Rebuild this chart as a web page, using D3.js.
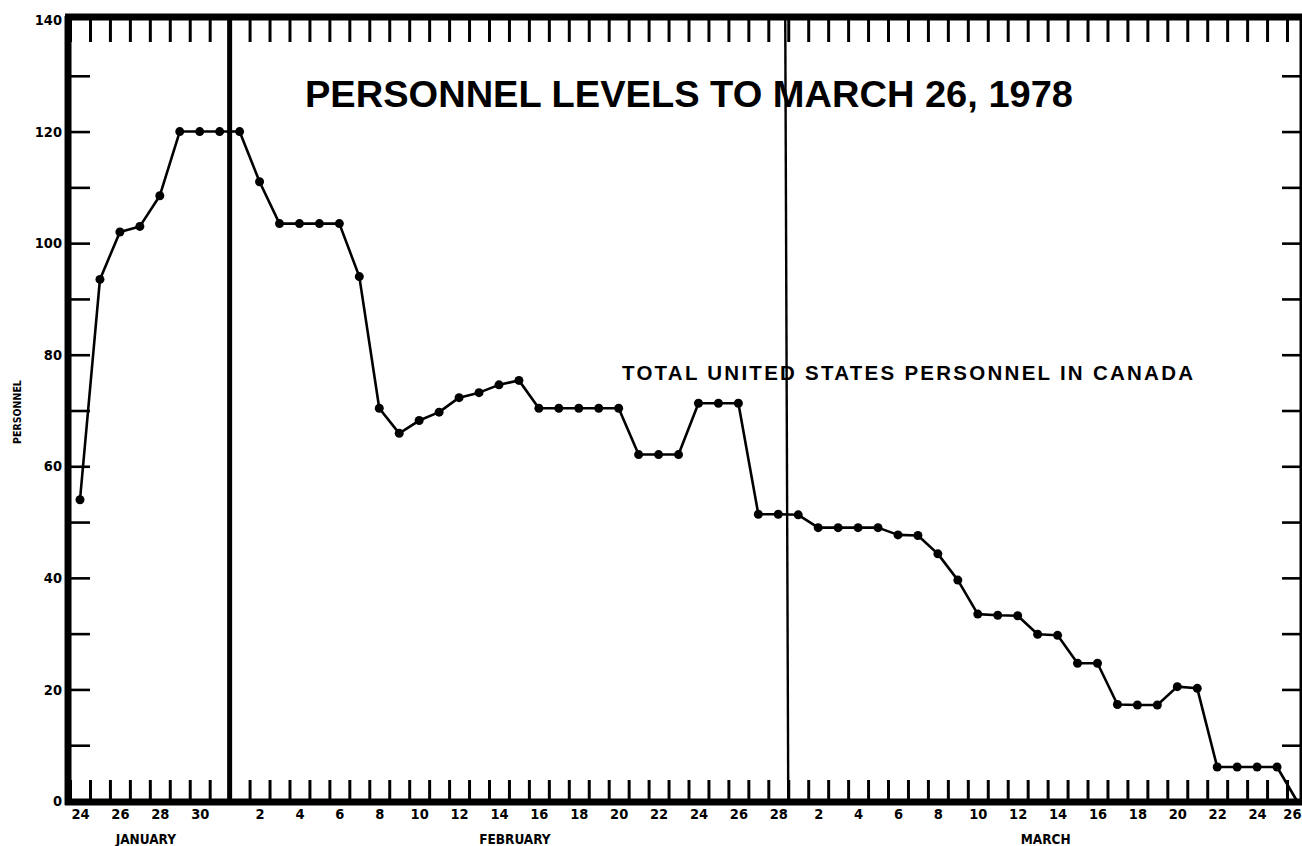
<!DOCTYPE html>
<html>
<head>
<meta charset="utf-8">
<script src="https://cdn.jsdelivr.net/npm/d3@7"></script>
<style>
  html, body { margin: 0; padding: 0; background: #fff; }
  svg { display: block; }
  .cond { font-family: "Liberation Sans Narrow", "DejaVu Sans Condensed", "Liberation Sans", sans-serif; font-weight: bold; font-stretch: condensed; }
  .head { font-family: "Liberation Sans", Arial, Helvetica, sans-serif; font-weight: bold; }
</style>
</head>
<body>
<script>
// Daily personnel counts, Jan 24 through Mar 26, 1978 (one value per day)
const days = [
  "Jan 24","Jan 25","Jan 26","Jan 27","Jan 28","Jan 29","Jan 30","Jan 31",
  "Feb 1","Feb 2","Feb 3","Feb 4","Feb 5","Feb 6","Feb 7","Feb 8","Feb 9","Feb 10",
  "Feb 11","Feb 12","Feb 13","Feb 14","Feb 15","Feb 16","Feb 17","Feb 18","Feb 19","Feb 20",
  "Feb 21","Feb 22","Feb 23","Feb 24","Feb 25","Feb 26","Feb 27","Feb 28",
  "Mar 1","Mar 2","Mar 3","Mar 4","Mar 5","Mar 6","Mar 7","Mar 8","Mar 9","Mar 10",
  "Mar 11","Mar 12","Mar 13","Mar 14","Mar 15","Mar 16","Mar 17","Mar 18","Mar 19","Mar 20",
  "Mar 21","Mar 22","Mar 23","Mar 24","Mar 25","Mar 26"
];
const personnel = [
  54, 93.5, 102, 103, 108.5, 120, 120, 120,
  120, 111, 103.5, 103.5, 103.5, 103.5, 94, 70.4, 65.9, 68.2,
  69.7, 72.3, 73.2, 74.6, 75.4, 70.4, 70.4, 70.4, 70.4, 70.4,
  62.1, 62.1, 62.1, 71.3, 71.3, 71.3, 51.4, 51.4,
  51.3, 49, 49, 49, 49, 47.7, 47.6, 44.3, 39.6, 33.5,
  33.3, 33.2, 29.9, 29.7, 24.7, 24.7, 17.3, 17.2, 17.2, 20.5,
  20.2, 6.1, 6.1, 6.1, 6.1, 0
];

// Axis labels
const yLabels = [0, 20, 40, 60, 80, 100, 120, 140];
const yMinorTicks = [10, 20, 30, 40, 50, 60, 70, 80, 90, 100, 110, 120, 130];
const dayLabels = [
  "24","26","28","30",
  "2","4","6","8","10","12","14","16","18","20","22","24","26","28",
  "2","4","6","8","10","12","14","16","18","20","22","24","26"
];
const dayLabelIndex = [
  0, 2, 4, 6,
  9, 11, 13, 15, 17, 19, 21, 23, 25, 27, 29, 31, 33, 35,
  37, 39, 41, 43, 45, 47, 49, 51, 53, 55, 57, 59, 61
];
const months = ["JANUARY", "FEBRUARY", "MARCH"];
const monthCenter = [3.3, 21.8, 48.4];     // day position under which each month name sits
const monthBreaks = [7.5, 35.5];           // Jan/Feb and Feb/Mar dividers
const title = "PERSONNEL LEVELS TO MARCH 26, 1978";
const seriesLabel = "TOTAL UNITED STATES PERSONNEL IN CANADA";
const yTitle = "PERSONNEL";

const W = 1302, H = 846;
const svg = d3.select("body").append("svg").attr("width", W).attr("height", H);

const x = d3.scaleLinear().domain([0, 61]).range([80, 1297]);
const y = d3.scaleLinear().domain([0, 140]).range([801, 20]);
const x0 = x(-0.6), x1 = W + 2;

// day boundaries for the comb ticks
const bounds = d3.range(-0.5, 61, 1);

// vertical month dividers
svg.append("line").attr("x1", x(monthBreaks[0])).attr("x2", x(monthBreaks[0]))
  .attr("y1", y(140)).attr("y2", y(0)).attr("stroke", "#000").attr("stroke-width", 5);
svg.append("line").attr("x1", x(monthBreaks[1]) - 3).attr("x2", x(monthBreaks[1]))
  .attr("y1", y(140)).attr("y2", y(0)).attr("stroke", "#000").attr("stroke-width", 2.4);

// bottom comb ticks
const bottomTicks = svg.append("g").attr("transform", `translate(0,${y(0)})`)
  .call(d3.axisBottom(x).tickValues(bounds).tickSize(-21).tickFormat(""));
bottomTicks.select(".domain").remove();
bottomTicks.selectAll("line").attr("stroke", "#000").attr("stroke-width", 3);

// top comb ticks
const topTicks = svg.append("g").attr("transform", `translate(0,${y(140)})`)
  .call(d3.axisTop(x).tickValues(bounds).tickSize(-22).tickFormat(""));
topTicks.select(".domain").remove();
topTicks.selectAll("line").attr("stroke", "#000").attr("stroke-width", 3);

// left ticks and labels
const leftAxis = svg.append("g").attr("transform", `translate(${x0},0)`)
  .call(d3.axisLeft(y).tickValues(yMinorTicks).tickSize(-22).tickFormat(""));
leftAxis.select(".domain").remove();
leftAxis.selectAll("line").attr("stroke", "#000").attr("stroke-width", 2.6);

const leftLabels = svg.append("g").attr("transform", `translate(${x0 - 4},0)`)
  .call(d3.axisLeft(y).tickValues(yLabels).tickSize(0).tickPadding(2).tickFormat(d3.format("d")));
leftLabels.select(".domain").remove();
leftLabels.selectAll("text").attr("class", "cond").attr("font-size", 14.5).attr("fill", "#000");

// right ticks
const rightAxis = svg.append("g").attr("transform", `translate(${W},0)`)
  .call(d3.axisRight(y).tickValues(yMinorTicks).tickSize(-20).tickFormat(""));
rightAxis.select(".domain").remove();
rightAxis.selectAll("line").attr("stroke", "#000").attr("stroke-width", 2.6);

// frame: heavy left, top and bottom rules, lighter right rule
svg.append("line").attr("x1", x0).attr("x2", x0).attr("y1", y(140) - 4).attr("y2", y(0) + 4)
  .attr("stroke", "#000").attr("stroke-width", 7);
svg.append("line").attr("x1", x0 - 3).attr("x2", x1).attr("y1", y(140) - 3).attr("y2", y(140) - 3)
  .attr("stroke", "#000").attr("stroke-width", 7);
svg.append("line").attr("x1", x0 - 3).attr("x2", x1).attr("y1", y(0) + 1).attr("y2", y(0) + 1)
  .attr("stroke", "#000").attr("stroke-width", 7);
svg.append("line").attr("x1", W - 1).attr("x2", W - 1).attr("y1", y(140)).attr("y2", y(0))
  .attr("stroke", "#000").attr("stroke-width", 3);

// day labels
const dayAxis = svg.append("g").attr("transform", `translate(0,${y(0) + 4})`)
  .call(d3.axisBottom(x).tickValues(dayLabelIndex).tickSize(0).tickPadding(4)
    .tickFormat((d, i) => dayLabels[i]));
dayAxis.select(".domain").remove();
dayAxis.selectAll("text").attr("class", "cond").attr("font-size", 14.5).attr("fill", "#000");
// last label sits against the right edge of the page
dayAxis.selectAll(".tick").filter(d => x(d) > W - 12).select("text")
  .attr("text-anchor", "end").attr("x", W - 1 - x(61));

// month names
svg.append("g").selectAll("text").data(months).join("text")
  .attr("class", "cond").attr("font-size", 13.5).attr("text-anchor", "middle")
  .attr("x", (d, i) => x(monthCenter[i])).attr("y", 844).text(d => d);

// y title
svg.append("text").attr("class", "cond").attr("font-size", 10.5)
  .attr("text-anchor", "middle")
  .attr("transform", `translate(21,412) rotate(-90)`).text(yTitle);

// series line and markers
const pts = personnel.map((v, i) => ({ i, v }));
svg.append("path").datum(pts)
  .attr("fill", "none").attr("stroke", "#000").attr("stroke-width", 2.6)
  .attr("stroke-linejoin", "round")
  .attr("d", d3.line().x(d => x(d.i)).y(d => y(d.v)));
svg.append("g").selectAll("circle").data(pts.filter(d => d.v > 0)).join("circle")
  .attr("cx", d => x(d.i)).attr("cy", d => y(d.v)).attr("r", 4.5).attr("fill", "#000");

// title and series label
svg.append("text").attr("class", "head").attr("font-size", 36)
  .attr("x", 305).attr("y", 107).attr("textLength", 768).attr("lengthAdjust", "spacingAndGlyphs")
  .text(title);
svg.append("text").attr("class", "head").attr("font-size", 20.5)
  .attr("x", 622).attr("y", 380).attr("textLength", 571).attr("lengthAdjust", "spacing")
  .text(seriesLabel);
</script>
</body>
</html>
